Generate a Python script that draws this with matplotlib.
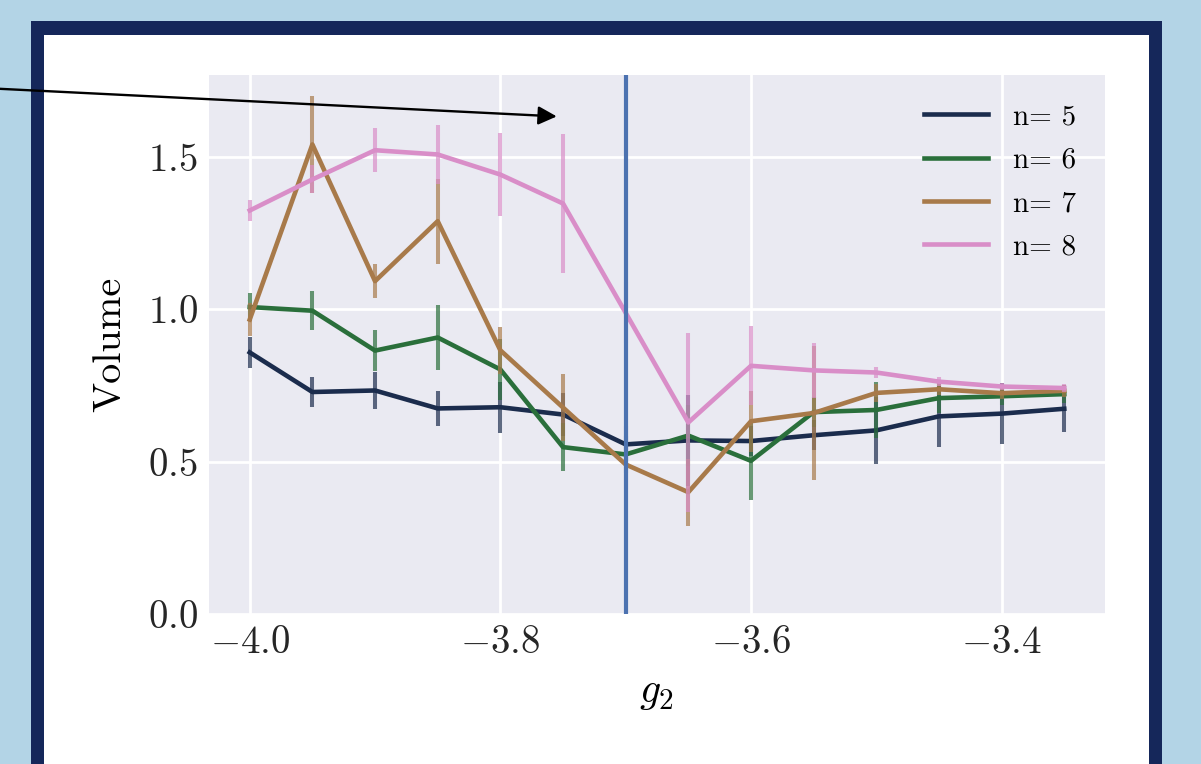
import matplotlib
matplotlib.use("Agg")
from matplotlib import pyplot as plt
from matplotlib.patches import Rectangle

# coupling values on the x axis
g2 = [-4.0, -3.95, -3.9, -3.85, -3.8, -3.75, -3.7,
      -3.65, -3.6, -3.55, -3.5, -3.45, -3.4, -3.35]

vol_n5 = [0.859, 0.729, 0.734, 0.675, 0.679, 0.655, 0.557,
          0.570, 0.568, 0.587, 0.603, 0.649, 0.658, 0.674]
err_n5 = [0.051, 0.048, 0.061, 0.056, 0.083, 0.070, 0.060,
          0.150, 0.050, 0.050, 0.110, 0.100, 0.100, 0.077]

vol_n6 = [1.008, 0.996, 0.865, 0.908, 0.803, 0.548, 0.524,
          0.586, 0.503, 0.663, 0.670, 0.709, 0.715, 0.722]
err_n6 = [0.047, 0.065, 0.067, 0.107, 0.100, 0.080, 0.060,
          0.100, 0.130, 0.050, 0.093, 0.050, 0.030, 0.030]

vol_n7 = [0.967, 1.542, 1.093, 1.290, 0.866, 0.678, 0.491,
          0.400, 0.633, 0.660, 0.726, 0.738, 0.725, 0.733]
err_n7 = [0.055, 0.159, 0.056, 0.140, 0.078, 0.110, 0.080,
          0.110, 0.100, 0.220, 0.030, 0.020, 0.020, 0.020]

vol_n8 = [1.325, 1.427, 1.523, 1.509, 1.443, 1.348, 0.989,
          0.629, 0.815, 0.800, 0.793, 0.763, 0.747, 0.742]
err_n8 = [0.035, 0.046, 0.072, 0.097, 0.137, 0.227, 0.100,
          0.295, 0.130, 0.090, 0.018, 0.015, 0.012, 0.012]

series = [
    ("n= 5", vol_n5, err_n5, "#1b2c4d"),
    ("n= 6", vol_n6, err_n6, "#2a6f3b"),
    ("n= 7", vol_n7, err_n7, "#a87a4a"),
    ("n= 8", vol_n8, err_n8, "#d98ec8"),
]

g2_critical = -3.7

plt.rcParams.update({
    "font.family": "serif",
    "font.serif": ["cmr10"],
    "mathtext.fontset": "cm",
    "axes.formatter.use_mathtext": True,
    "axes.unicode_minus": True,
})

fig = plt.figure(figsize=(12.01, 7.64), dpi=100)
fig.patch.set_facecolor("#b3d4e6")

# navy frame with white card inside
fig.patches.append(Rectangle((31 / 1201, -0.01), 1131 / 1201, 1 - 21 / 764 + 0.01,
                             transform=fig.transFigure, facecolor="#15275a",
                             edgecolor="none", zorder=0))
fig.patches.append(Rectangle((44 / 1201, -0.01), 1105 / 1201, 1 - 35 / 764 + 0.01,
                             transform=fig.transFigure, facecolor="white",
                             edgecolor="none", zorder=0))

ax = fig.add_axes([209 / 1201, 150 / 764, 896 / 1201, 539 / 764])
ax.set_zorder(2)
ax.set_facecolor("#eaeaf2")
for spine in ax.spines.values():
    spine.set_visible(False)
ax.grid(True, color="white", lw=2)
ax.set_axisbelow(True)
ax.tick_params(length=0, labelsize=28, pad=8, colors="#262626")

for label, vol, err, color in series:
    ax.plot(g2, vol, color=color, lw=3.3, label=label, zorder=3)
    ax.errorbar(g2, vol, yerr=err, fmt="none", ecolor=color,
                elinewidth=2.9, alpha=0.7, capsize=0, zorder=3)

ax.axvline(g2_critical, color="#4c72b0", lw=3, zorder=4)

ax.annotate("", xy=(-3.755, 1.634), xytext=(-4.26, 1.737),
            arrowprops=dict(arrowstyle="-|>", color="black", lw=1.7,
                            mutation_scale=28, shrinkA=0, shrinkB=0),
            annotation_clip=False)

ax.set_ylim(0, 1.77)
ax.set_yticks([0.0, 0.5, 1.0, 1.5])
ax.set_xticks([-4.0, -3.8, -3.6, -3.4])
ax.set_xlabel("$g_2$", fontsize=30, labelpad=10)
ax.set_ylabel("Volume", fontsize=29, labelpad=14)

leg = ax.legend(loc="upper right", frameon=False, fontsize=21,
                handlelength=2.2, handletextpad=0.85, labelspacing=0.58,
                borderaxespad=0.6)
for line in leg.get_lines():
    line.set_linewidth(3.3)

fig.savefig("out.png", dpi=100, facecolor=fig.get_facecolor())
